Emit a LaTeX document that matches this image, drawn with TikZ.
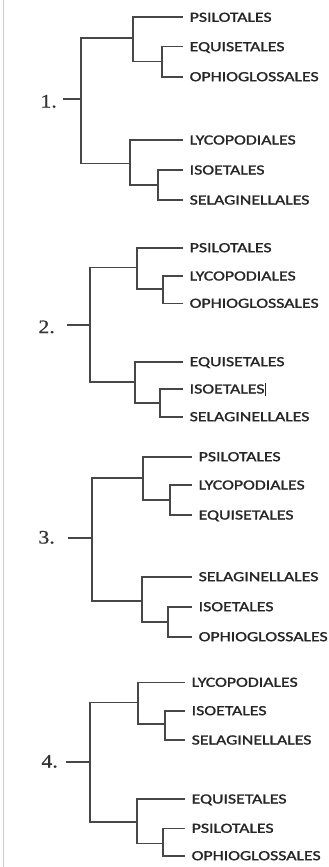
\documentclass[tikz,border=0pt]{standalone}
\usepackage{fontspec}
\usepackage{graphicx}
\setmainfont{Liberation Serif}[FakeBold=0.6]
\newfontfamily\labfont{Carlito}[FakeBold=1.2]
\newcommand\lab[1]{\scalebox{1.27}[1]{#1}}
\newcommand\numl[1]{\scalebox{1.15}[1]{#1}}
\tikzset{
  leaf/.style={anchor=west, inner xsep=6.5pt, inner ysep=0pt, text height=9pt, text depth=0pt,
    font=\labfont\fontsize{14}{14}\selectfont, text=black!85},
  num/.style={anchor=east, inner sep=0pt, text height=13pt, text depth=0pt,
    font=\fontsize{19}{19}\selectfont, text=black!80},
  br/.style={draw=black!72, line width=1.6pt}
}
\begin{document}
\begin{tikzpicture}[x=1pt,y=-1pt]
\useasboundingbox (0,0) rectangle (329,867);
\fill[white] (0,0) rectangle (329,867);
\draw[black!20, line width=1pt] (3,0) -- (3,867);

% ---------- Tree 1 ----------
\node[num] (n1) at (57,101) {\numl{1.}};
\coordinate (s1) at (63,99);
\coordinate (R1) at (81,99);
\coordinate (A1) at (133,38.3);
\coordinate (A1s) at (162,61.7);
\coordinate (B1) at (130,163.3);
\coordinate (B1s) at (158,185);
\node[leaf] (t1a) at (183,17.3) {\lab{PSILOTALES}};
\node[leaf] (t1b) at (183,46.7) {\lab{EQUISETALES}};
\node[leaf] (t1c) at (183,76.7) {\lab{OPHIOGLOSSALES}};
\node[leaf] (t1d) at (183,140) {\lab{LYCOPODIALES}};
\node[leaf] (t1e) at (183,170) {\lab{ISOETALES}};
\node[leaf] (t1f) at (183,200) {\lab{SELAGINELLALES}};
\draw[br] (s1) -- (R1);
\draw[br] (R1) |- (A1);
\draw[br] (R1) |- (B1);
\draw[br] (A1) |- (t1a.west);
\draw[br] (A1) |- (A1s);
\draw[br] (A1s) |- (t1b.west);
\draw[br] (A1s) |- (t1c.west);
\draw[br] (B1) |- (t1d.west);
\draw[br] (B1) |- (B1s);
\draw[br] (B1s) |- (t1e.west);
\draw[br] (B1s) |- (t1f.west);

% ---------- Tree 2 ----------
\node[num] (n2) at (55,326.5) {\numl{2.}};
\coordinate (s2) at (67,325);
\coordinate (R2) at (90,325);
\coordinate (A2) at (137,267.3);
\coordinate (A2s) at (163,289);
\coordinate (B2) at (135,381.7);
\coordinate (B2s) at (160,403);
\node[leaf] (t2a) at (183,247.7) {\lab{PSILOTALES}};
\node[leaf] (t2b) at (183,276) {\lab{LYCOPODIALES}};
\node[leaf] (t2c) at (183,303.3) {\lab{OPHIOGLOSSALES}};
\node[leaf] (t2d) at (183,361.7) {\lab{EQUISETALES}};
\node[leaf] (t2e) at (183,389) {\lab{ISOETALES\rule[-2.5pt]{0.7pt}{13pt}}};
\node[leaf] (t2f) at (183,416.7) {\lab{SELAGINELLALES}};
\draw[br] (s2) -- (R2);
\draw[br] (R2) |- (A2);
\draw[br] (R2) |- (B2);
\draw[br] (A2) |- (t2a.west);
\draw[br] (A2) |- (A2s);
\draw[br] (A2s) |- (t2b.west);
\draw[br] (A2s) |- (t2c.west);
\draw[br] (B2) |- (t2d.west);
\draw[br] (B2) |- (B2s);
\draw[br] (B2s) |- (t2e.west);
\draw[br] (B2s) |- (t2f.west);

% ---------- Tree 3 ----------
\node[num] (n3) at (55,537) {\numl{3.}};
\coordinate (s3) at (68,537.7);
\coordinate (R3) at (92,537.7);
\coordinate (A3) at (143,477.7);
\coordinate (A3s) at (170,500);
\coordinate (B3) at (142,600.7);
\coordinate (B3s) at (168,621.7);
\node[leaf] (t3a) at (192,456.7) {\lab{PSILOTALES}};
\node[leaf] (t3b) at (192,485) {\lab{LYCOPODIALES}};
\node[leaf] (t3c) at (192,515) {\lab{EQUISETALES}};
\node[leaf] (t3d) at (192,576.7) {\lab{SELAGINELLALES}};
\node[leaf] (t3e) at (192,606.7) {\lab{ISOETALES}};
\node[leaf] (t3f) at (192,636.7) {\lab{OPHIOGLOSSALES}};
\draw[br] (s3) -- (R3);
\draw[br] (R3) |- (A3);
\draw[br] (R3) |- (B3);
\draw[br] (A3) |- (t3a.west);
\draw[br] (A3) |- (A3s);
\draw[br] (A3s) |- (t3b.west);
\draw[br] (A3s) |- (t3c.west);
\draw[br] (B3) |- (t3d.west);
\draw[br] (B3) |- (B3s);
\draw[br] (B3s) |- (t3e.west);
\draw[br] (B3s) |- (t3f.west);

% ---------- Tree 4 ----------
\node[num] (n4) at (58,761) {\numl{4.}};
\coordinate (s4) at (66,761.7);
\coordinate (R4) at (90,761.7);
\coordinate (A4) at (138,702.3);
\coordinate (A4s) at (165,724);
\coordinate (B4) at (137,821.7);
\coordinate (B4s) at (163,843.3);
\node[leaf] (t4a) at (185,682.3) {\lab{LYCOPODIALES}};
\node[leaf] (t4b) at (185,710.7) {\lab{ISOETALES}};
\node[leaf] (t4c) at (185,740) {\lab{SELAGINELLALES}};
\node[leaf] (t4d) at (185,799) {\lab{EQUISETALES}};
\node[leaf] (t4e) at (185,828.3) {\lab{PSILOTALES}};
\node[leaf] (t4f) at (185,855.7) {\lab{OPHIOGLOSSALES}};
\draw[br] (s4) -- (R4);
\draw[br] (R4) |- (A4);
\draw[br] (R4) |- (B4);
\draw[br] (A4) |- (t4a.west);
\draw[br] (A4) |- (A4s);
\draw[br] (A4s) |- (t4b.west);
\draw[br] (A4s) |- (t4c.west);
\draw[br] (B4) |- (t4d.west);
\draw[br] (B4) |- (B4s);
\draw[br] (B4s) |- (t4e.west);
\draw[br] (B4s) |- (t4f.west);
\end{tikzpicture}
\end{document}
